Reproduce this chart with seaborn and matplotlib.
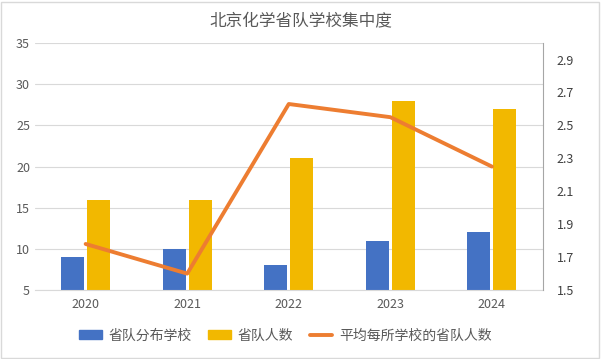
import numpy as np
import pandas as pd
import matplotlib
matplotlib.use("Agg")
import matplotlib.pyplot as plt
from matplotlib.patches import Patch, Rectangle
from matplotlib.lines import Line2D
import seaborn as sns

years = ["2020", "2021", "2022", "2023", "2024"]
schools = [9, 10, 8, 11, 12]
students = [16, 16, 21, 28, 27]
avg_per_school = [1.78, 1.60, 2.63, 2.55, 2.25]

BLUE = "#4472C4"
GOLD = "#F2B800"
ORANGE = "#ED7D31"
TXT = "#595959"

sns.set_style("white")
plt.rcParams["font.family"] = ["Noto Sans CJK SC", "DejaVu Sans"]

df = pd.DataFrame({
    "year": years * 2,
    "value": schools + students,
    "series": ["省队分布学校"] * 5 + ["省队人数"] * 5,
})
line_df = pd.DataFrame({"pos": np.arange(len(years)), "avg": avg_per_school})

fig = plt.figure(figsize=(6.01, 3.59), dpi=100)
ax = fig.add_axes([0.058, 0.192, 0.845, 0.688])

sns.barplot(data=df, x="year", y="value", hue="series", order=years,
            palette=[BLUE, GOLD], width=0.51, gap=0.11, ax=ax,
            legend=False, saturation=1, linewidth=0, edgecolor="none")
ax.set_ylim(5, 35)
ax.set_yticks(range(5, 36, 5))
ax.yaxis.grid(True, color="#D9D9D9", linewidth=0.8)
ax.set_axisbelow(True)
ax.set_xlabel("")
ax.set_ylabel("")
for s in ["top", "right", "left"]:
    ax.spines[s].set_visible(False)
ax.spines["bottom"].set_color("#D9D9D9")
ax.tick_params(axis="both", colors=TXT, labelsize=9, length=0)
ax.tick_params(axis="x", pad=6)

ax2 = ax.twinx()
sns.lineplot(data=line_df, x="pos", y="avg", color=ORANGE, linewidth=2.8, ax=ax2)
ax2.set_ylim(1.5, 3.0)
ax2.set_yticks(np.round(np.arange(1.5, 2.91, 0.2), 1))
ax2.set_ylabel("")
ax2.set_xlabel("")
ax2.set_xlim(-0.5, 4.5)
for s in ["top", "left", "bottom"]:
    ax2.spines[s].set_visible(False)
ax2.spines["right"].set_color("#A6A6A6")
ax2.tick_params(axis="y", colors="#404040", labelsize=9, length=0, pad=10)

fig.text(0.5, 0.94, "北京化学省队学校集中度", ha="center", va="center",
         fontsize=12, color=TXT)

handles = [Patch(color=BLUE), Patch(color=GOLD), Line2D([], [], color=ORANGE, linewidth=2.8)]
labels = ["省队分布学校", "省队人数", "平均每所学校的省队人数"]
fig.legend(handles, labels, loc="center", bbox_to_anchor=(0.475, 0.065), ncol=3,
           frameon=False, fontsize=10, labelcolor=TXT, handlelength=1.6,
           handleheight=0.6, columnspacing=1.2, handletextpad=0.5)

fig.add_artist(Rectangle((0.002, 0.004), 0.994, 0.99, transform=fig.transFigure,
                         fill=False, edgecolor="#D9D9D9", linewidth=1))

fig.savefig("out.png", dpi=100)
